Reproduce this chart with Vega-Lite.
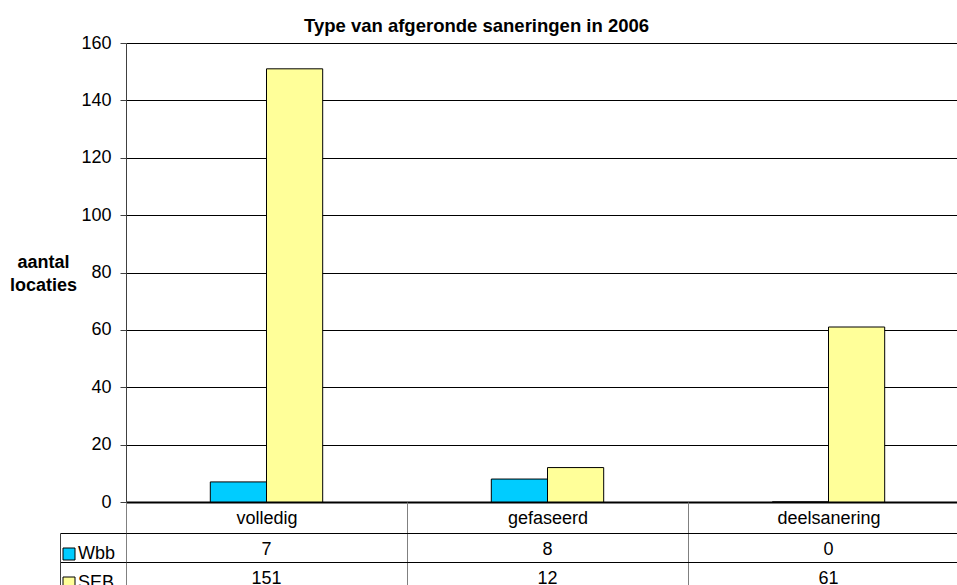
{
  "$schema": "https://vega.github.io/schema/vega-lite/v6.json",
  "background": "white",
  "padding": {"left": 9, "top": 16, "right": -13, "bottom": -6},
  "config": {
    "font": "Liberation Sans",
    "view": {"stroke": null},
    "axis": {"labelFont": "Liberation Sans", "titleFont": "Liberation Sans"},
    "legend": {"labelFont": "Liberation Sans"}
  },
  "data": {
    "values": [
      {"category": "volledig", "series": "Wbb", "value": 7},
      {"category": "volledig", "series": "SEB", "value": 151},
      {"category": "gefaseerd", "series": "Wbb", "value": 8},
      {"category": "gefaseerd", "series": "SEB", "value": 12},
      {"category": "deelsanering", "series": "Wbb", "value": 0},
      {"category": "deelsanering", "series": "SEB", "value": 61}
    ]
  },
  "spacing": 31,
  "bounds": "flush",
  "resolve": {
    "scale": {"x": "independent", "y": "independent", "color": "independent"},
    "legend": {"color": "independent"}
  },
  "vconcat": [
    {
      "width": 831,
      "height": 459,
      "title": {
        "text": "Type van afgeronde saneringen in 2006",
        "fontSize": 18.5,
        "font": "Liberation Sans",
        "fontWeight": "bold",
        "anchor": "middle",
        "dx": -65,
        "offset": -1,
        "color": "black"
      },
      "mark": {"type": "bar", "stroke": "black", "strokeWidth": 1},
      "encoding": {
        "x": {
          "field": "category",
          "type": "nominal",
          "sort": ["volledig", "gefaseerd", "deelsanering"],
          "scale": {"range": [0, 843], "paddingInner": 0, "paddingOuter": 0},
          "axis": {
            "title": null,
            "domain": false,
            "tickBand": "extent",
            "ticks": true,
            "tickSize": 31,
            "tickColor": "#808080",
            "labelAngle": 0,
            "labelFontSize": 18,
            "labelColor": "black",
            "labelPadding": -15,
            "labelBaseline": "middle",
            "labelBound": false,
            "labelOverlap": false,
            "labelFlush": false,
            "grid": false
          }
        },
        "xOffset": {
          "field": "series",
          "type": "nominal",
          "scale": {"domain": ["pre", "Wbb", "SEB", "post"], "paddingInner": 0, "paddingOuter": 0.5}
        },
        "y": {
          "field": "value",
          "type": "quantitative",
          "scale": {"domain": [0, 160]},
          "axis": {
            "title": ["aantal", "locaties"],
            "titleAngle": 0,
            "titleFontSize": 18,
            "titleFontWeight": "bold",
            "titleColor": "black",
            "titleX": -83,
            "titleY": 219,
            "titleAlign": "center",
            "titleBaseline": "middle",
            "titleLineHeight": 23,
            "values": [0, 20, 40, 60, 80, 100, 120, 140, 160],
            "labelFontSize": 18,
            "labelColor": "black",
            "labelPadding": 9,
            "tickSize": 6,
            "tickColor": "#404040",
            "domainColor": "#404040",
            "grid": true,
            "gridColor": "black",
            "gridWidth": {"condition": {"test": "datum.value === 0", "value": 2}, "value": 1}
          }
        },
        "color": {
          "field": "series",
          "type": "nominal",
          "scale": {"domain": ["Wbb", "SEB"], "range": ["#00CCFF", "#FFFF99"]},
          "legend": null
        }
      }
    },
    {
      "width": 831,
      "height": 52,
      "encoding": {
        "x": {
          "field": "category",
          "type": "nominal",
          "sort": ["volledig", "gefaseerd", "deelsanering"],
          "scale": {"range": [0, 843], "paddingInner": 0, "paddingOuter": 0},
          "axis": {
            "title": null,
            "labels": false,
            "ticks": false,
            "domain": false,
            "grid": true,
            "tickBand": "extent",
            "gridColor": "#808080"
          }
        },
        "y": {
          "field": "series",
          "type": "nominal",
          "sort": ["Wbb", "SEB"],
          "scale": {"range": [0, 58], "paddingInner": 0, "paddingOuter": 0},
          "axis": {
            "title": null,
            "labels": false,
            "domain": true,
            "domainColor": "#404040",
            "offset": 66,
            "ticks": true,
            "tickSize": -66,
            "tickColor": "black",
            "tickBand": "extent",
            "grid": true,
            "gridColor": "black"
          }
        }
      },
      "layer": [
        {
          "mark": {"type": "square", "opacity": 0},
          "encoding": {
            "color": {
              "field": "series",
              "type": "nominal",
              "scale": {"domain": ["Wbb", "SEB"], "range": ["#00CCFF", "#FFFF99"]},
              "legend": {
                "orient": "left",
                "title": null,
                "offset": -69,
                "padding": 12,
                "labelFontSize": 18,
                "labelColor": "black",
                "labelOffset": 0,
                "symbolType": "square",
                "symbolSize": 144,
                "symbolStrokeColor": "black",
                "symbolStrokeWidth": 1,
                "symbolOpacity": 1,
                "rowPadding": 11
              }
            }
          }
        },
        {
          "mark": {"type": "text", "fontSize": 18, "baseline": "middle", "dy": 2, "color": "black"},
          "encoding": {"text": {"field": "value", "type": "quantitative"}}
        }
      ]
    }
  ]
}
